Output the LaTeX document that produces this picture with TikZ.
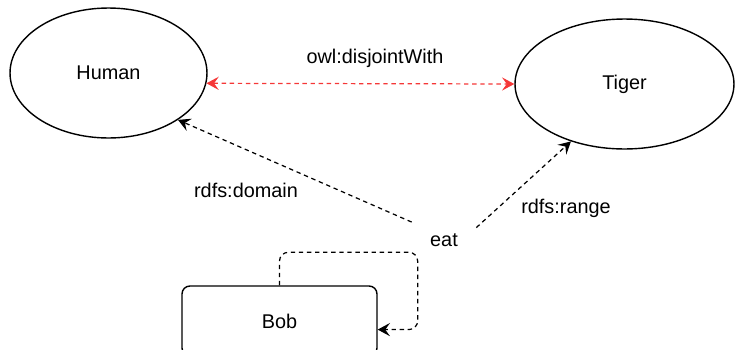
\documentclass[tikz,border=0pt]{standalone}
\usepackage{fontspec}
\setmainfont{Liberation Sans}
\usetikzlibrary{shapes.geometric, arrows.meta, positioning}
\definecolor{disjred}{RGB}{245,55,55}

\begin{document}
\begin{tikzpicture}[x=0.02cm, y=-0.02cm, font=\fontsize{11.3}{13}\selectfont,
    >={Stealth[length=7pt, width=7.5pt, inset=2.7pt]},
    class/.style={draw, ellipse, line width=0.8pt, minimum width=3.94cm, minimum height=2.6cm, inner sep=0pt},
    inst/.style={draw, rounded corners=4.5pt, line width=0.8pt, minimum width=3.9cm, minimum height=1.4cm},
    rel/.style={->, dash pattern=on 2.5pt off 2.1pt, line width=0.7pt}]
    \useasboundingbox (0,0) rectangle (735,349);

    \node[class] (human) at (108.5,73) {Human};
    \node[class, minimum width=4.38cm] (tiger) at (624.5,84) {Tiger};
    \node[inst] (bob) at (279.5,321) {Bob};
    \node[minimum width=1.28cm, minimum height=0.8cm] (eat) at (444,240) {eat};

    \node (disjoint) at (375,58) {owl:disjointWith};
    \node (domain) at (246,190) {rdfs:domain};
    \node (range) at (566,208) {rdfs:range};

    \draw[rel, <->, disjred] (human.-6) -- (tiger.west);
    \draw[rel] (eat.151) -- (human.-34);
    \draw[rel] (eat.21) -- (tiger.-133);
    \draw[rel, rounded corners=5pt] (bob.north) -- ++(0,-33) -| ([xshift=0.8cm]bob.-5) -- (bob.-5);
\end{tikzpicture}
\end{document}
